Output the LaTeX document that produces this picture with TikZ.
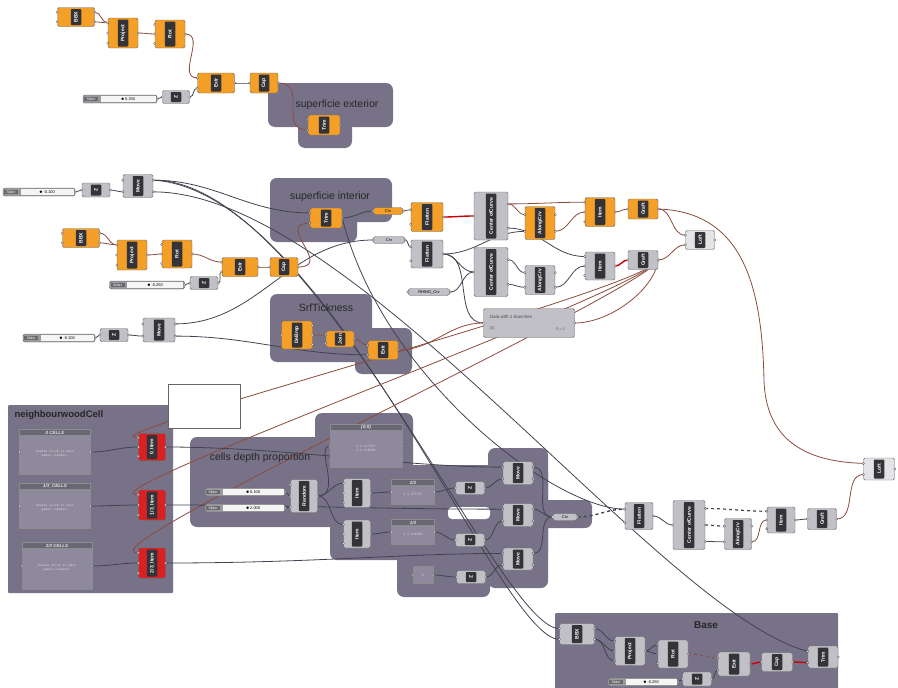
\documentclass[tikz,border=0pt]{standalone}
\usepackage{fontspec}
\setmainfont{Liberation Sans}
\usetikzlibrary{calc}

\definecolor{grp}{RGB}{120,114,136}
\definecolor{orng}{RGB}{244,160,40}
\definecolor{gry}{RGB}{192,192,198}
\definecolor{lgry}{RGB}{228,228,231}
\definecolor{redc}{RGB}{218,32,32}
\definecolor{stripc}{RGB}{52,52,56}
\definecolor{wirec}{RGB}{68,66,80}
\definecolor{wirebr}{RGB}{140,74,60}
\definecolor{pnl}{RGB}{142,137,156}

\pgfdeclarelayer{grp}
\pgfdeclarelayer{wires}
\pgfsetlayers{grp,wires,main}

\tikzset{
  comp/.style={draw=black!60,rounded corners=1.5pt,inner sep=0pt,line width=0.4pt},
  strip/.style={fill=stripc,text=white,font=\bfseries\fontsize{5}{5.5}\selectfont,
                inner sep=0.5pt,minimum height=10.5pt,rounded corners=0.8pt},
  port/.style={draw=black!70,fill=white,line width=0.3pt},
  wire/.style={draw=wirec,line width=0.8pt},
  wireb/.style={draw=wirebr,line width=0.8pt},
  wirer/.style={draw=red!80!black,line width=1.4pt},
  group/.style={fill=grp,draw=none,rounded corners=7pt},
  grouplabel/.style={font=\fontsize{10.5}{12}\selectfont,text=black!85}
}

% component: [fill]{name}{x,y}{w}{h}{label}{inputs}{outputs}
\newcommand{\ghcomp}[8][orng]{%
  \node[comp,fill=#1,minimum width=#4pt,minimum height=#5pt] (#2) at (#3) {};
  \node[strip,rotate=90,minimum width=#5pt-3pt] at (#2.center) {#6};
  \foreach \i in {1,...,#7}{
    \coordinate (#2-i\i) at ($(#2.north west)!{(\i-0.5)/#7}!(#2.south west)$);
    \draw[port] (#2-i\i) circle (1.2pt);}
  \foreach \i in {1,...,#8}{
    \coordinate (#2-o\i) at ($(#2.north east)!{(\i-0.5)/#8}!(#2.south east)$);
    \draw[port] (#2-o\i) circle (1.2pt);}
}
% parameter: [fill]{name}{x,y}{w}{label}
\newcommand{\ghparam}[5][gry]{%
  \node[comp,rounded corners=3pt,fill=#1,minimum width=#4pt,minimum height=7pt,
        font=\fontsize{4}{4}\selectfont] (#2) at (#3) {#5};
  \draw[port] (#2.west) circle (1.2pt);
  \draw[port] (#2.east) circle (1.2pt);
}
% slider: {name}{x,y}{w}{value}
\newcommand{\ghslider}[4]{%
  \node[comp,fill=gry!80!black,minimum width=#3pt,minimum height=8pt] (#1) at (#2) {};
  \node[fill=gry!55!black,inner sep=0.6pt,minimum width=14pt,anchor=west,
        font=\fontsize{3.5}{4}\selectfont,text=white] at ([xshift=1pt]#1.west) {Slider};
  \node[fill=white!92!gray,minimum width=#3pt-19pt,minimum height=5.5pt,inner sep=0pt,
        anchor=east,font=\fontsize{4}{4}\selectfont] at ([xshift=-1.5pt]#1.east) {$\bullet$\,#4};
  \draw[port] (#1.east) circle (1.2pt);
}
% panel: {name}{x,y}{w}{h}{header}{body}
\newcommand{\ghpanel}[6]{%
  \node[draw=black!45,fill=pnl,minimum width=#3pt,minimum height=#4pt,inner sep=0pt] (#1) at (#2) {};
  \node[fill=pnl!75!black,draw=black!45,minimum width=#3pt,minimum height=6pt,inner sep=0pt,
        anchor=north,font=\bfseries\itshape\fontsize{4.5}{5}\selectfont,text=white!80!gray] at (#1.north) {#5};
  \node[font=\ttfamily\fontsize{3.6}{4.2}\selectfont,text=white!70!gray,align=center]
        at ([yshift=-2pt]#1.center) {#6};
  \draw[port] (#1.west) circle (1.2pt);
  \draw[port] (#1.east) circle (1.2pt);
}

\begin{document}
\begin{tikzpicture}[x=1pt,y=-1pt]
\useasboundingbox (0,0) rectangle (898,688);

% groups
\begin{pgfonlayer}{grp}
  \fill[group] (268,83) rectangle (393,127);
  \fill[group] (298,110) rectangle (352,148);
  \fill[group] (270,178) rectangle (392,222);
  \fill[group] (270,178) rectangle (357,242);
  \fill[group] (270,294) rectangle (372,362);
  \fill[group] (355,328) rectangle (412,374);
  \fill[group,rounded corners=1pt] (8,405) rectangle (173,593);
  \fill[group] (190,437) rectangle (340,527);
  \fill[group] (315,413) rectangle (413,478);
  \fill[group] (330,465) rectangle (548,560);
  \fill[group] (397,540) rectangle (490,597);
  \fill[group] (488,448) rectangle (548,588);
  \fill[group] (538,500) rectangle (592,528);
  \fill[white,rounded corners=4pt] (448,507) rectangle (490,519);
  \fill[group,rounded corners=1pt] (555,613) rectangle (838,700);
\end{pgfonlayer}

\node[grouplabel] (lbext) at (337,105) {superficie exterior};
\node[grouplabel] (lbint) at (330,197) {superficie interior};
\node[grouplabel] (lbsrf) at (326,308) {SrfTickness};
\node[grouplabel,font=\bfseries\fontsize{9.5}{12}\selectfont,anchor=west] (lbngh) at (11,415) {neighbourwoodCell};
\node[grouplabel] (lbcel) at (260,458) {cells depth proportion};
\node[grouplabel,font=\bfseries\fontsize{10}{12}\selectfont] (lbbas) at (706,625) {Base};

% superficie exterior
\ghcomp{bbx1}{76,17}{37}{19}{BBX}{2}{2}
\ghcomp{proj1}{123,33}{30}{30}{Project}{3}{1}
\ghcomp{rot1}{170,34}{30}{28}{Rot}{3}{1}
\ghcomp{extr1}{216,83}{37}{20}{Extr}{2}{1}
\ghcomp{cap1}{264,83}{28}{20}{Cap}{1}{1}
\ghslider{sld1}{120,99}{74}{0.250}
\ghcomp[gry]{z1}{176,97}{27}{13}{Z}{1}{1}
\ghcomp{trim1}{324,125}{32}{20}{Trim}{2}{1}

% superficie interior
\ghslider{sld2}{39,192}{72}{-0.100}
\ghcomp[gry]{z2}{96,190}{28}{14}{Z}{1}{1}
\ghcomp[gry]{move1}{138,186}{30}{23}{Move}{2}{2}
\ghcomp{trim2}{326,218}{32}{20}{Trim}{2}{1}
\ghparam[orng]{crv1}{388,211}{30}{Crv}
\ghcomp{flat1}{427,217}{32}{29}{Flatten}{2}{1}
\ghcomp[gry]{cen1}{491,216}{34}{48}{Center ofCurve}{1}{2}
\ghcomp{along1}{540,223}{30}{33}{AlongCrv}{2}{2}
\ghcomp{item1}{600,212}{30}{29}{Item}{3}{1}
\ghcomp{graft1}{643,209}{30}{20}{Graft}{1}{1}
\ghcomp[lgry]{loft1}{700,240}{29}{19}{Loft}{2}{1}
\ghparam[gry]{crv2}{389,240}{32}{Crv}
\ghcomp[gry]{flat2}{427,254}{32}{28}{Flatten}{2}{1}
\ghcomp[gry]{cen2}{491,272}{34}{49}{Center ofCurve}{1}{2}
\ghcomp[gry]{along2}{540,280}{30}{29}{AlongCrv}{2}{2}
\ghcomp[gry]{item2}{600,266}{30}{28}{Item}{3}{1}
\ghcomp[gry]{graft2}{643,260}{30}{19}{Graft}{1}{1}
\ghparam[gry]{rhcrv}{429,292}{42}{RHINO\_Crv}
\node[comp,fill=gry,minimum width=91pt,minimum height=29pt] (data) at (529,323) {};
\node[font=\itshape\fontsize{4.5}{5}\selectfont,anchor=north west,text=black!70]
  at ([shift={(3pt,-3pt)}]data.north west) {Data with 1 branches};
\node[font=\fontsize{4}{5}\selectfont,anchor=south west,text=black!60]
  at ([shift={(3pt,4pt)}]data.south west) {\{0\}};
\node[font=\fontsize{4}{5}\selectfont,anchor=south east,text=black!60]
  at ([shift={(-6pt,4pt)}]data.south east) {0 = 1};
\draw[port] (data.west) circle (1.2pt);
\draw[port] (data.east) circle (1.2pt);

\ghcomp{bbx2}{81,238}{37}{19}{BBX}{2}{2}
\ghcomp{proj2}{132,255}{30}{30}{Project}{3}{1}
\ghcomp{rot2}{177,254}{30}{28}{Rot}{3}{1}
\ghcomp{extr2}{240,267}{36}{19}{Extr}{2}{1}
\ghcomp{cap2}{284,267}{28}{19}{Cap}{1}{1}
\ghslider{sld3}{147,285}{75}{-0.250}
\ghcomp[gry]{z3}{204,283}{28}{13}{Z}{1}{1}

% SrfTickness
\ghslider{sld4}{59,338}{72}{-0.100}
\ghcomp[gry]{z4}{114,335}{28}{13}{Z}{1}{1}
\ghcomp[gry]{move2}{159,330}{32}{24}{Move}{2}{2}
\ghcomp{debrep}{297,335}{31}{28}{DeBrep}{1}{3}
\ghcomp{join}{340,339}{28}{16}{Join}{2}{1}
\ghcomp{extr3}{383,350}{30}{19}{Extr}{2}{1}

\node[draw=black!60,fill=white,minimum width=72pt,minimum height=44pt] (blank) at (204,406) {};

% neighbourwoodCell
\ghpanel{pan0}{55,452}{71}{45}{0 CELLS}{Double click to edit\\panel content\dots}
\ghpanel{pan13}{55,506}{71}{45}{1/3\_CELLS}{Double click to edit\\panel content\dots}
\ghpanel{pan23}{57,566}{70}{47}{2/3 CELLS}{Double click to edit\\panel content\dots}
\ghcomp[redc]{item0}{152,447}{27}{27}{0\_Item}{3}{1}
\ghcomp[redc]{item13}{152,505}{27}{30}{1/3\_Item}{3}{1}
\ghcomp[redc]{item23}{152,563}{27}{30}{2/3\_Item}{3}{1}

% cells depth proportion
\ghslider{sld5}{245,492}{80}{0.100}
\ghslider{sld6}{245,508}{80}{2.000}
\ghcomp[gry]{rnd}{304,496}{27}{33}{Random}{3}{1}
\ghpanel{ptop}{366,446}{72}{43}{\{0;0\}}{0\ 0.277327\\1\ 0.316358}
\ghcomp[gry]{item3}{357,493}{27}{29}{Item}{3}{1}
\ghcomp[gry]{item4}{357,534}{27}{28}{Item}{3}{1}
\ghpanel{p23}{413,492}{43}{25}{2/3}{0\ 0.277327}
\ghpanel{p13}{413,532}{43}{25}{1/3}{0\ 0.316358}
\node[draw=black!45,fill=pnl,minimum width=20pt,minimum height=17pt,
      font=\ttfamily\fontsize{3.6}{4}\selectfont,text=white!70!gray] (psm) at (423,575) {0};
\draw[port] (psm.west) circle (1.2pt);
\draw[port] (psm.east) circle (1.2pt);
\ghcomp[gry]{z5}{470,488}{29}{13}{Z}{1}{1}
\ghcomp[gry]{z6}{470,540}{29}{13}{Z}{1}{1}
\ghcomp[gry]{z7}{471,577}{29}{13}{Z}{1}{1}
\ghcomp[gry]{move3}{518,473}{30}{23}{Move}{2}{2}
\ghcomp[gry]{move4}{518,515}{30}{23}{Move}{2}{2}
\ghcomp[gry]{move5}{518,559}{30}{22}{Move}{2}{2}
\ghparam[gry]{crv3}{565,517}{25}{Crv}

\ghcomp[gry]{flat3}{639,516}{28}{27}{Flatten}{2}{1}
\ghcomp[gry]{cen3}{689,525}{32}{49}{Center ofCurve}{1}{3}
\ghcomp[gry]{along3}{738,534}{27}{31}{AlongCrv}{2}{2}
\ghcomp[gry]{item5}{781,520}{28}{26}{Item}{3}{1}
\ghcomp[gry]{graft3}{822,519}{29}{21}{Graft}{1}{1}
\ghcomp[lgry]{loft2}{879,469}{31}{22}{Loft}{2}{1}

% Base
\ghcomp[gry]{bbx3}{577,634}{35}{21}{BBX}{2}{2}
\ghcomp[gry]{proj3}{630,651}{30}{29}{Project}{3}{1}
\ghcomp[gry]{rot3}{673,654}{30}{28}{Rot}{3}{1}
\ghcomp[gry]{extr4}{734,664}{32}{24}{Extr}{2}{1}
\ghcomp[gry]{cap3}{777,662}{31}{19}{Cap}{1}{1}
\ghcomp[gry]{trim3}{823,657}{30}{22}{Trim}{2}{1}
\ghslider{sld7}{643,682}{70}{-0.250}
\ghcomp[gry]{z8}{697,679}{29}{14}{Z}{1}{1}

\begin{pgfonlayer}{wires}
  % top chain
  \draw[wireb] (bbx1-o1) to[out=0,in=180] (proj1-i1);
  \draw[wireb] (bbx1-o2) to[out=0,in=180] (proj1-i1);
  \draw[wireb] (proj1-o1) to[out=0,in=180] (rot1-i2);
  \draw[wireb] (rot1-o1) to[out=0,in=180,looseness=1.2] (extr1-i1);
  \draw[wire] (sld1.east) to[out=0,in=180] (z1-i1);
  \draw[wire] (z1-o1) to[out=0,in=180] (extr1-i2);
  \draw[wire] (extr1-o1) to[out=0,in=180] (cap1-i1);
  \draw[wireb] (cap1-o1) to[out=0,in=180,looseness=1.4] (trim1-i2);

  % interior
  \draw[wire] (sld2.east) to[out=0,in=180] (z2-i1);
  \draw[wire] (z2-o1) to[out=0,in=180] (move1-i2);
  \draw[wire] (move1-o1) to[out=0,in=180] (trim2-i1);
  \draw[wire] (move1-o1) .. controls +(160,0) and +(-60,0) .. (bbx3-i1);
  \draw[wire] (move1-o1) .. controls +(175,10) and +(-60,0) .. (bbx3-i2);
  \draw[wire] (move1-o2) .. controls +(200,0) and +(-150,-40) .. (trim3-i1);
  \draw[wire] (trim2-o1) to[out=0,in=180] (crv1.west);
  \draw[wire] (trim2-o1) .. controls +(40,160) and +(-70,0) .. (flat3-i1);
  \draw[wireb] (crv1.east) to[out=0,in=180] (flat1-i1);
  \draw[wirer] (flat1-o1) to[out=0,in=180] (cen1-i1);
  \draw[wireb] (cen1-o1) to[out=0,in=180] (along1-i1);
  \draw[wireb] (cen1-o1) to[out=0,in=180] (item1-i1);
  \draw[wire] (flat2-o1) to[out=0,in=180] (along1-i2);
  \draw[wireb] (along1-o2) to[out=0,in=180] (item1-i2);
  \draw[wireb] (item1-o1) to[out=0,in=180] (graft1-i1);
  \draw[wireb] (graft1-o1) to[out=0,in=180] (loft1-i1);
  \draw[wireb] (graft1-o1) .. controls (745,212) and (762,290) .. (764,380)
                .. controls (766,450) and (820,462) .. (loft2-i1);
  \draw[wire] (crv2.east) to[out=0,in=180] (flat2-i1);
  \draw[wire] (flat2-o1) to[out=0,in=180] (cen2-i1);
  \draw[wire] (cen2-o1) to[out=0,in=180] (along2-i1);
  \draw[wire] (cen1-o2) to[out=0,in=180] (item2-i1);
  \draw[wire] (cen2-o2) to[out=0,in=180] (along2-i2);
  \draw[wire] (along2-o2) to[out=0,in=180] (item2-i2);
  \draw[wirer] (item2-o1) to[out=0,in=180] (graft2-i1);
  \draw[wireb] (graft2-o1) to[out=0,in=180] (loft1-i2);
  \draw[wire] (rhcrv.east) to[out=0,in=180] (cen2-i1);
  \draw[wire] (flat2-o1) to[out=0,in=180] (data.west);

  \draw[wireb] (bbx2-o1) to[out=0,in=180] (proj2-i1);
  \draw[wireb] (bbx2-o2) to[out=0,in=180] (proj2-i1);
  \draw[wireb] (proj2-o1) to[out=0,in=180] (rot2-i2);
  \draw[wireb] (rot2-o1) to[out=0,in=180] (extr2-i1);
  \draw[wire] (sld3.east) to[out=0,in=180] (z3-i1);
  \draw[wire] (z3-o1) to[out=0,in=180] (extr2-i2);
  \draw[wireb] (extr2-o1) to[out=0,in=180] (cap2-i1);
  \draw[wireb] (cap2-o1) to[out=0,in=180,looseness=2] (trim2-i2);

  % thickness
  \draw[wire] (sld4.east) to[out=0,in=180] (z4-i1);
  \draw[wire] (z4-o1) to[out=0,in=180] (move2-i2);
  \draw[wire] (move2-o1) to[out=0,in=180] (crv2.west);
  \draw[wire] (move2-o2) to[out=0,in=180] (extr3-i2);
  \draw[wireb] (debrep-o2) to[out=0,in=180] (join-i1);
  \draw[wireb] (join-o1) to[out=0,in=180] (extr3-i1);
  \draw[wireb] (extr3-o1) to[out=0,in=180] (data.west);
  \draw[wireb] (data.east) .. controls +(35,0) and +(-4,30) .. (graft2-o1);
  \draw[wireb] (graft2-o1) .. controls +(-10,30) and +(-65,0) .. (item0-i1);
  \draw[wireb] (graft2-o1) .. controls +(-10,30) and +(-65,0) .. (item13-i1);
  \draw[wireb] (graft2-o1) .. controls +(-10,30) and +(-65,0) .. (item23-i1);

  % cells
  \draw[wire] (pan0.east) to[out=0,in=180] (item0-i2);
  \draw[wire] (pan13.east) to[out=0,in=180] (item13-i2);
  \draw[wire] (pan23.east) to[out=0,in=180] (item23-i2);
  \draw[wire] (item0-o1) .. controls +(120,0) and +(-100,0) .. (move3-i1);
  \draw[wire] (item13-o1) to[out=0,in=180] (move4-i1);
  \draw[wire] (item23-o1) .. controls +(150,0) and +(-100,0) .. (move5-i1);
  \draw[wire] (sld5.east) to[out=0,in=180] (rnd-i2);
  \draw[wire] (sld6.east) to[out=0,in=180] (rnd-i3);
  \draw[wire] (rnd-o1) to[out=0,in=180] (item3-i1);
  \draw[wire] (rnd-o1) to[out=0,in=180] (item4-i1);
  \draw[wire] (rnd-o1) .. controls +(25,0) and +(-15,0) .. (ptop.west);
  \draw[wire] (item3-o1) to[out=0,in=180] (p23.west);
  \draw[wire] (item4-o1) to[out=0,in=180] (p13.west);
  \draw[wire] (p23.east) to[out=0,in=180] (z5-i1);
  \draw[wire] (p13.east) to[out=0,in=180] (z6-i1);
  \draw[wire] (psm.east) to[out=0,in=180] (z7-i1);
  \draw[wire] (z5-o1) to[out=0,in=180] (move3-i2);
  \draw[wire] (z6-o1) to[out=0,in=180] (move4-i2);
  \draw[wire] (z7-o1) to[out=0,in=180] (move5-i2);
  \draw[wire] (move3-o1) to[out=0,in=180] (crv3.west);
  \draw[wire] (move4-o1) to[out=0,in=180] (crv3.west);
  \draw[wire] (move5-o1) to[out=0,in=180] (crv3.west);
  \draw[wire,dashed,line width=1.4pt] (crv3.east) to[out=0,in=180] (flat3-i1);
  \draw[wire] (flat3-o1) to[out=0,in=180] (cen3-i1);
  \draw[wire,dashed,line width=1.2pt] (cen3-o1) to[out=0,in=180] (item5-i1);
  \draw[wire,dashed,line width=1.2pt] (cen3-o2) to[out=0,in=180] (along3-i1);
  \draw[wire] (cen3-o3) to[out=0,in=180] (along3-i2);
  \draw[wireb] (along3-o2) to[out=0,in=180] (item5-i2);
  \draw[wire] (item5-o1) to[out=0,in=180] (graft3-i1);
  \draw[wireb] (graft3-o1) to[out=0,in=180] (loft2-i2);

  % base
  \draw[wire] (bbx3-o1) to[out=0,in=180] (proj3-i1);
  \draw[wire] (bbx3-o2) to[out=0,in=180] (proj3-i2);
  \draw[wire] (bbx3-o2) to[out=0,in=180] (proj3-i3);
  \draw[wire] (proj3-o1) to[out=0,in=180] (rot3-i1);
  \draw[wire] (proj3-o1) to[out=0,in=180] (rot3-i2);
  \draw[wireb,dashed] (rot3-o1) to[out=0,in=180] (extr4-i1);
  \draw[wire] (sld7.east) to[out=0,in=180] (z8-i1);
  \draw[wire] (z8-o1) to[out=0,in=180] (extr4-i2);
  \draw[wirer] (extr4-o1) to[out=0,in=180] (cap3-i1);
  \draw[wirer] (cap3-o1) to[out=0,in=180] (trim3-i2);
\end{pgfonlayer}
\end{tikzpicture}
\end{document}
